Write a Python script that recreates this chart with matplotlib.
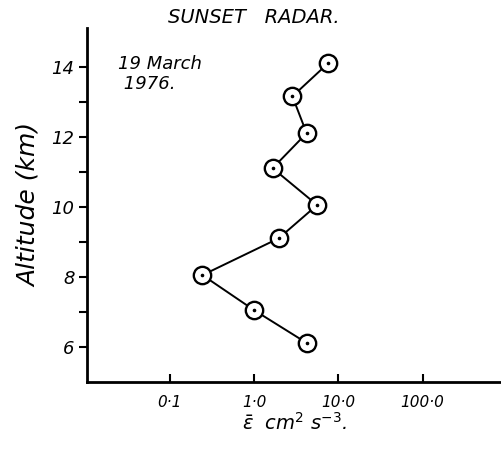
import matplotlib
matplotlib.use('Agg')
import matplotlib.pyplot as plt

# dissipation rate profile
altitude_km = [14.1, 13.15, 12.1, 11.1, 10.05, 9.1, 8.05, 7.05, 6.1]
epsilon = [7.6, 2.85, 4.2, 1.66, 5.6, 1.96, 0.244, 1.0, 4.3]

x_ticks = [0.1, 1.0, 10.0, 100.0]
x_tick_labels = ['0·1', '1·0', '10·0', '100·0']
y_ticks = [6, 7, 8, 9, 10, 11, 12, 13, 14]
y_tick_labels = ['6', '', '8', '', '10', '', '12', '', '14']

fig = plt.figure(figsize=(5.02, 4.49), dpi=100)
ax = fig.add_axes([0.1733, 0.1492, 0.8267, 0.7884])

ax.plot(epsilon, altitude_km, '-', color='black', lw=1.4, zorder=2)
ax.plot(epsilon, altitude_km, 'o', ms=12.5, mfc='white', mec='black', mew=1.7, zorder=3)
ax.plot(epsilon, altitude_km, 'o', ms=1.6, color='black', zorder=4)

ax.set_xscale('log')
ax.set_xlim(0.0104, 875)
ax.set_ylim(5.0, 15.1)

for side in ['top', 'right']:
    ax.spines[side].set_visible(False)
for side in ['left', 'bottom']:
    ax.spines[side].set_linewidth(2)

ax.set_xticks(x_ticks)
ax.set_xticklabels(x_tick_labels, fontsize=11, style='italic')
ax.minorticks_off()
ax.tick_params(axis='x', direction='in', length=6, width=1.5, pad=9)
ax.set_yticks(y_ticks)
ax.set_yticklabels(y_tick_labels, fontsize=13, style='italic')
ax.tick_params(axis='y', direction='out', length=6, width=1.5, pad=3)

ax.set_xlabel(r'$\bar{\varepsilon}$  cm$^2$ s$^{-3}$.', fontsize=14, style='italic', labelpad=2)
ax.set_ylabel('Altitude (km)', fontsize=18, style='italic', labelpad=8)

fig.text(0.505, 0.962, 'SUNSET   RADAR.', ha='center', va='center', fontsize=14, style='italic')
ax.text(0.075, 0.87, '19 March\n 1976.', transform=ax.transAxes, ha='left', va='center',
        fontsize=13, style='italic', linespacing=1.1)

plt.savefig('out.png', dpi=100)
